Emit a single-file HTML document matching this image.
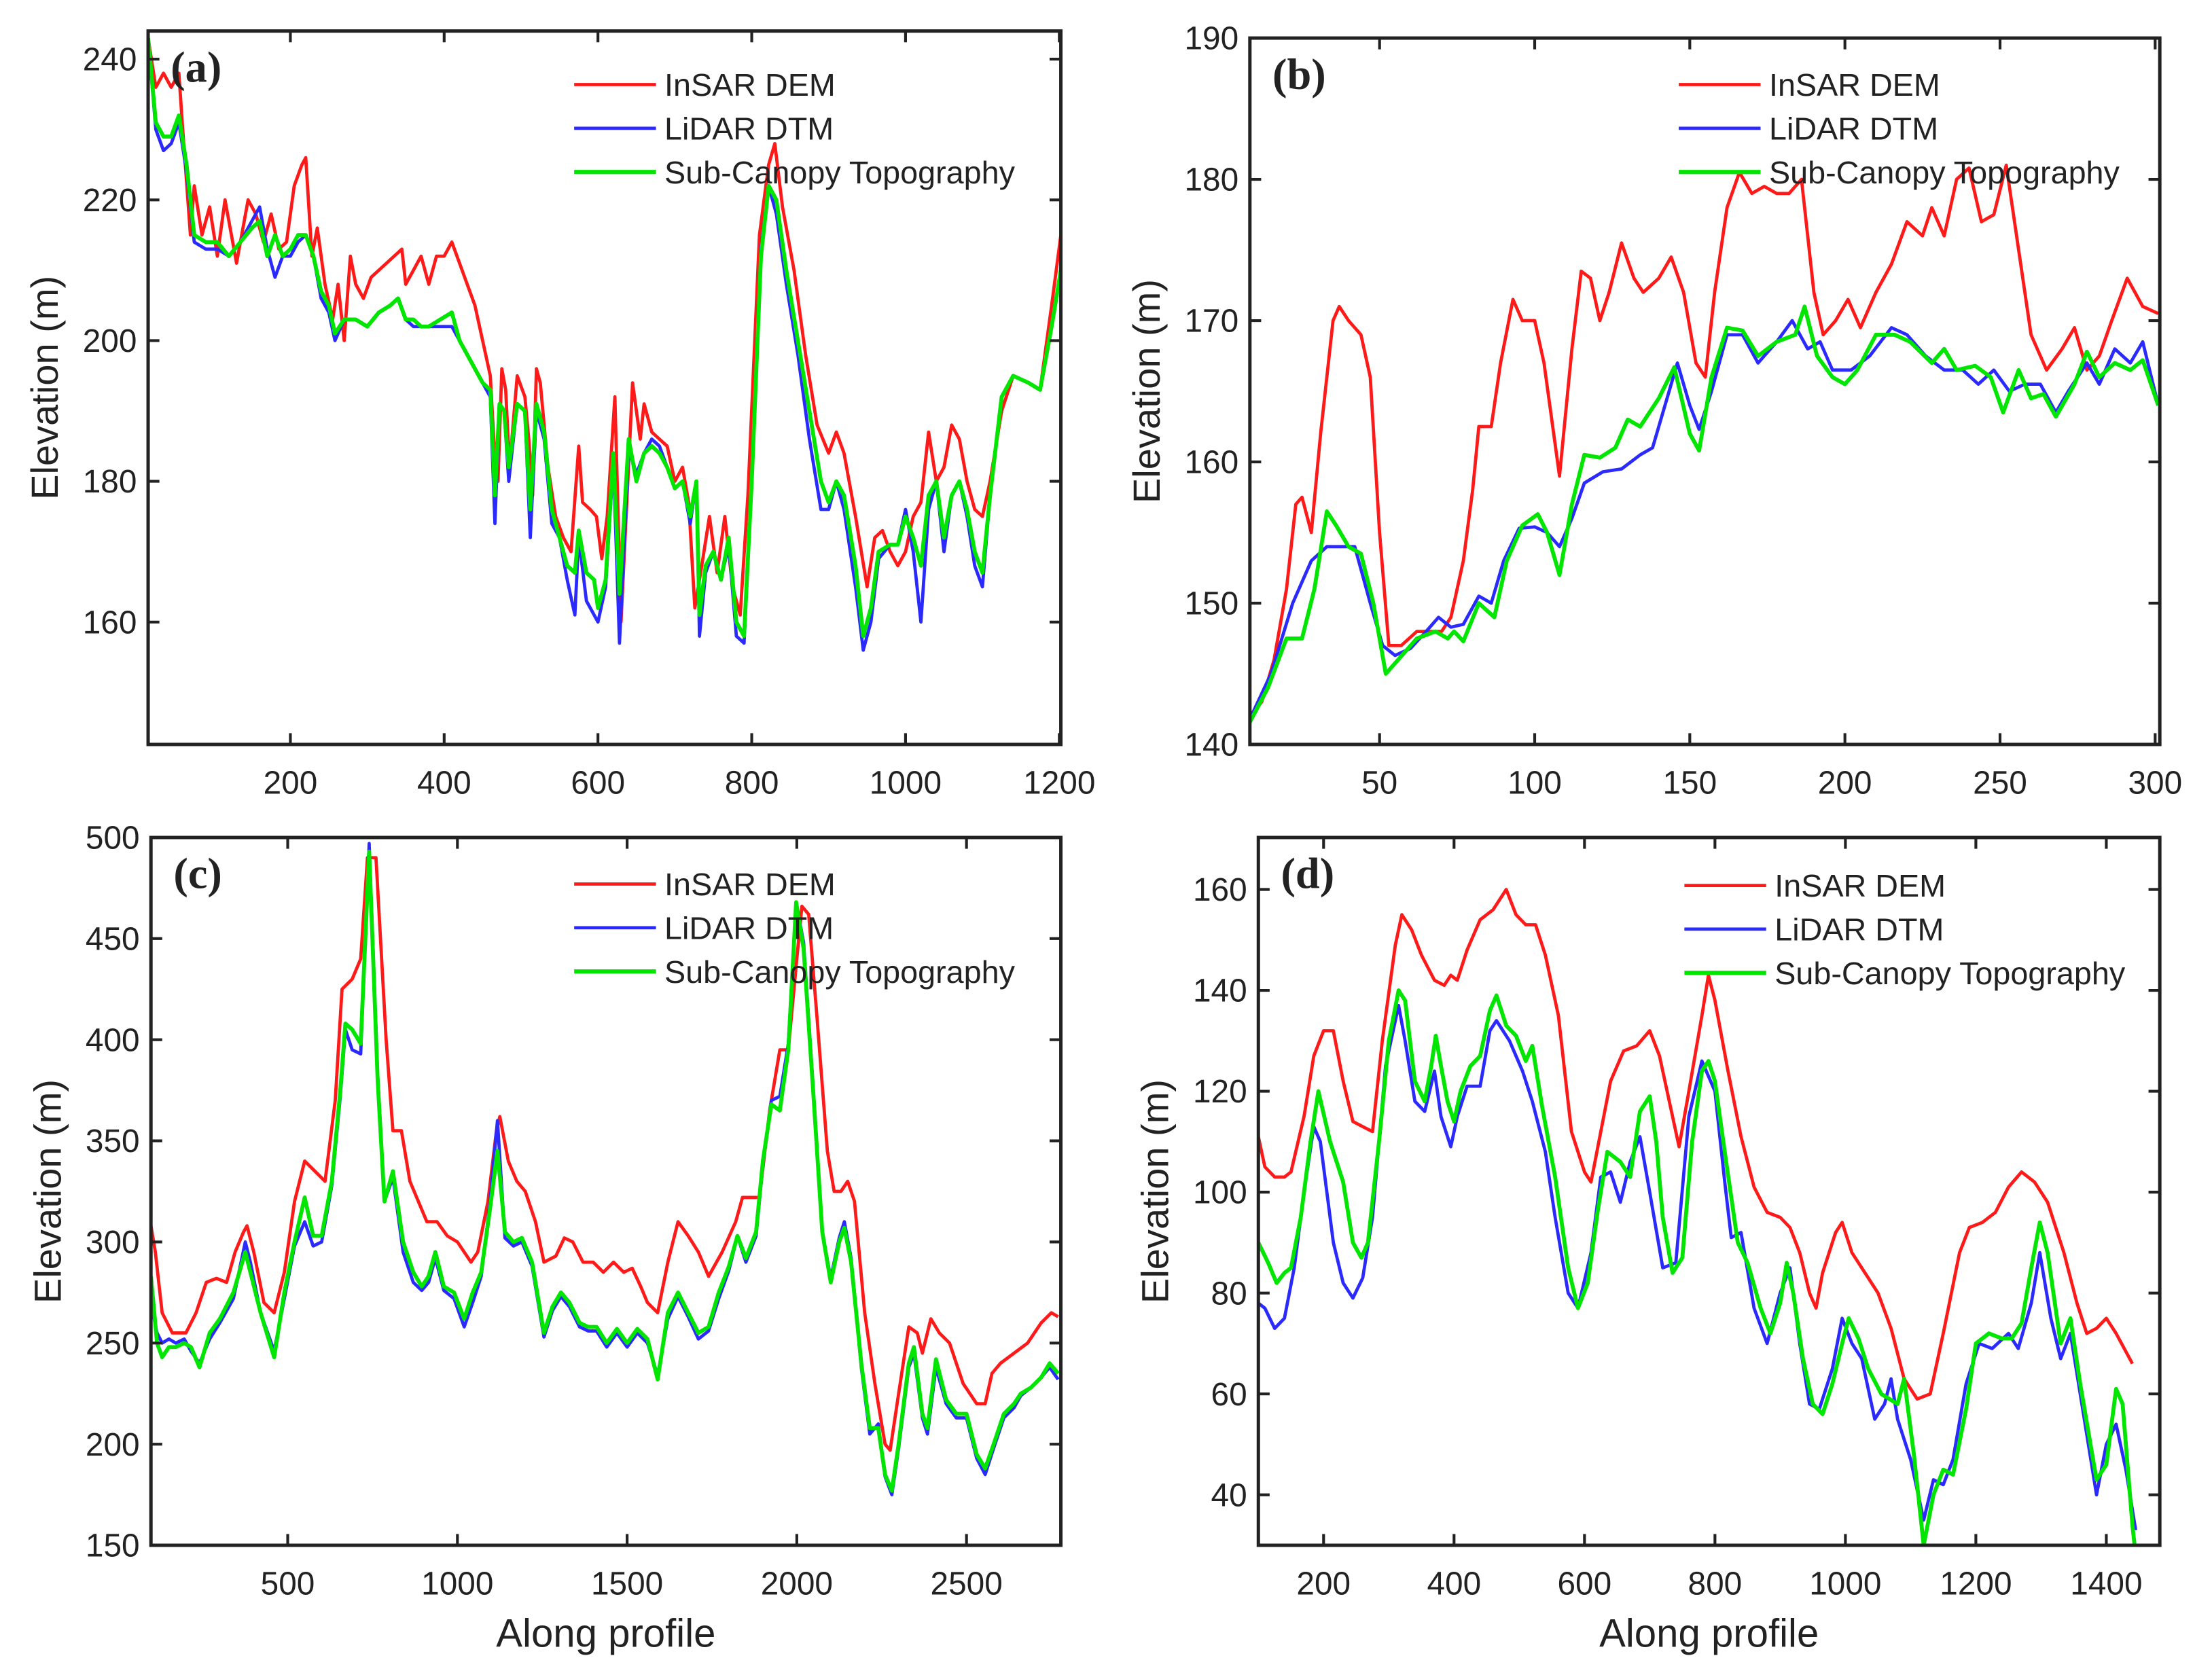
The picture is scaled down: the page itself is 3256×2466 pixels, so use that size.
<!DOCTYPE html>
<html><head><meta charset="utf-8"><style>
html,body{margin:0;padding:0;background:#fff}
svg{display:block}
text{font-family:"Liberation Sans",Arial,sans-serif;fill:#222}
</style></head><body>
<svg id="fig" xmlns="http://www.w3.org/2000/svg" width="3256" height="2466" viewBox="0 0 1568 1188" preserveAspectRatio="none"></svg>
<script>
// ---- Panel (a) data ----
const aRedX=[15,25,35,45,55,60,70,75,85,95,105,115,130,145,155,165,175,185,195,205,215,220,228,235,245,255,262,270,278,285,295,305,315,325,335,345,350,360,370,380,390,400,410,420,430,440,450,460,465,470,475,480,485,495,505,510,515,520,525,535,545,555,565,575,580,590,598,605,612,622,630,645,655,660,670,680,690,700,710,718,726,735,745,755,765,775,785,795,810,822,830,840,855,870,885,900,910,920,935,950,960,970,980,990,1000,1010,1020,1030,1040,1050,1060,1070,1080,1090,1100,1110,1125,1140,1160,1175,1190,1202];
const aRedY=[243,236,238,236,238,230,215,222,215,219,212,220,211,220,218,214,218,213,214,222,225,226,212,216,208,203,208,200,212,208,206,209,210,211,212,213,208,210,212,208,212,212,214,211,208,205,200,195,185,180,196,193,182,195,192,186,178,196,194,182,175,172,170,185,177,176,175,169,175,192,160,194,186,191,187,186,185,180,182,177,162,168,175,167,175,165,161,178,215,225,228,219,210,198,188,184,187,184,175,165,172,173,170,168,170,175,177,187,180,182,188,186,180,176,175,180,190,195,194,193,205,215];
const aGreenX=[15,25,35,45,55,65,75,90,105,120,135,150,160,170,180,190,200,210,220,230,240,250,258,270,285,300,315,330,340,350,360,370,380,395,410,420,430,440,450,460,466,472,478,484,495,505,512,520,530,540,550,560,570,575,585,595,600,610,620,628,640,650,660,670,680,690,700,710,720,728,732,740,750,760,770,780,790,800,812,822,832,845,860,875,890,900,910,920,935,945,955,965,980,990,1000,1010,1020,1030,1040,1050,1060,1070,1080,1090,1100,1110,1125,1140,1160,1175,1190,1202];
const aGreenY=[243,231,229,229,232,225,215,214,214,212,214,216,217,212,215,212,213,215,215,212,207,205,201,203,203,202,204,205,206,203,203,202,202,203,204,200,198,196,194,193,178,191,190,182,191,190,176,191,187,176,172,168,167,173,167,166,162,166,184,164,186,180,184,185,184,182,179,180,175,180,161,168,170,166,172,160,158,180,212,222,220,210,200,190,180,177,180,178,168,158,162,170,171,171,175,172,168,178,180,172,178,180,176,170,167,178,192,195,194,193,202,210];
const aBlueX=aGreenX;
const aBlueY=[243,230,227,228,231,224,214,213,213,212,214,217,219,213,209,212,212,214,215,212,206,204,200,203,203,202,204,205,206,203,202,202,202,202,202,200,198,196,194,192,174,191,190,180,191,190,172,190,186,174,172,166,161,172,163,161,160,165,183,157,185,181,184,186,185,182,179,180,174,180,158,167,170,166,171,158,157,180,213,222,218,208,198,186,176,176,180,176,165,156,160,169,171,171,176,170,160,176,180,170,178,180,175,168,165,178,192,195,194,193,202,210];

// ---- Panel (b) data ----
const bRedX=[8,12,16,20,23,25,28,31,35,37,40,44,47,50,53,57,62,67,70,73,77,80,82,86,89,93,96,100,103,108,112,115,118,121,124,128,132,135,140,144,148,152,155,158,162,166,170,174,178,182,186,190,193,197,201,205,210,215,220,225,228,232,236,240,244,248,252,256,260,265,270,274,278,282,286,291,296,301];
const bRedY=[142,143,146,151,157,157.5,155,162,170,171,170,169,166,155,147,147,148,148,148,149,153,158,162.5,162.5,167,171.5,170,170,167,159,168,173.5,173,170,172,175.5,173,172,173,174.5,172,167,166,172,178,180.5,179,179.5,179,179,180,172,169,170,171.5,169.5,172,174,177,176,178,176,180,180.8,177,177.5,181,175,169,166.5,168,169.5,166.5,167.5,170,173,171,170.5];
const bBlueX=[8,15,22,28,33,38,42,47,51,55,60,65,69,73,77,82,86,90,95,100,104,108,112,116,122,128,134,138,142,146,150,153,157,162,167,172,178,183,188,192,196,202,208,215,220,226,232,238,243,248,253,258,263,268,272,278,282,287,292,296,301];
const bBlueY=[141.7,145,150,153,154,154,154,150,147,146.3,146.8,148,149,148.3,148.5,150.5,150,153,155.3,155.4,155,154,156,158.5,159.3,159.5,160.5,161,164,167,164,162.3,165,169,169,167,168.5,170,168,168.5,166.5,166.5,167.5,169.5,169,167.5,166.5,166.5,165.5,166.5,165,165.5,165.5,163.5,165,167,165.5,168,167,168.5,164];
const bGreenX=[8,14,20,25,29,33,36,40,44,48,52,56,62,68,72,74,77,82,87,91,96,101,104,108,112,116,121,126,130,134,140,145,150,153,157,162,167,172,178,184,187,191,196,200,204,210,216,221,228,232,236,242,247,251,256,260,264,268,274,278,282,287,292,296,301];
const bGreenY=[141.5,144,147.5,147.5,151,156.5,155.5,154,153.5,150,145,146,147.5,148,147.5,148,147.3,150,149,153,155.5,156.3,155,152,157,160.5,160.3,161,163,162.5,164.5,166.7,162,160.8,166,169.5,169.3,167.5,168.5,169,171,167.5,166,165.5,166.5,169,169,168.5,167,168,166.5,166.8,166,163.5,166.5,164.5,164.8,163.2,165.5,167.8,166,167,166.5,167.2,164];

// ---- Panel (c) data ----
const cRedX=[97,110,130,160,200,230,260,290,320,345,370,380,400,430,460,490,520,550,580,610,640,660,690,715,735,760,790,810,835,860,890,910,940,970,1000,1040,1060,1090,1115,1125,1150,1175,1200,1230,1255,1290,1315,1340,1370,1400,1430,1460,1490,1515,1540,1560,1590,1620,1650,1680,1710,1740,1780,1820,1840,1860,1890,1920,1950,1975,2000,2015,2035,2060,2090,2110,2130,2150,2170,2200,2230,2260,2275,2300,2330,2355,2370,2395,2420,2450,2490,2530,2555,2575,2600,2640,2680,2720,2750,2770];
const cRedY=[308,295,265,255,255,265,280,282,280,295,305,308,295,270,265,285,320,340,335,330,370,425,430,440,490,490,400,355,355,330,318,310,310,303,300,290,295,320,355,362,340,330,325,310,290,293,302,300,290,290,285,290,285,287,278,270,265,290,310,303,295,283,295,310,322,322,322,365,395,395,440,466,462,410,345,325,325,330,320,265,230,200,197,225,258,255,245,262,255,250,230,220,220,235,240,245,250,260,265,263];
const cGreenX=[97,115,130,150,170,195,215,240,270,300,340,375,390,420,460,490,520,550,575,600,630,655,670,690,715,740,765,785,810,840,870,895,915,935,960,990,1020,1045,1070,1095,1118,1140,1165,1190,1220,1255,1280,1305,1330,1360,1385,1410,1440,1470,1500,1530,1560,1590,1620,1650,1680,1710,1740,1770,1800,1825,1850,1880,1900,1925,1950,1975,1998,2020,2050,2075,2100,2125,2140,2160,2190,2215,2240,2260,2280,2300,2330,2345,2370,2385,2410,2440,2470,2500,2530,2555,2580,2610,2640,2660,2690,2720,2745,2770];
const cGreenY=[283,250,243,248,248,250,248,238,255,262,275,295,285,265,243,275,300,322,303,303,330,375,408,405,398,493,380,320,335,300,285,278,283,295,278,275,262,275,285,315,345,305,300,302,290,255,268,275,270,260,258,258,250,257,250,257,252,232,265,275,265,255,258,275,288,303,292,305,340,368,365,395,468,445,370,305,280,300,307,290,240,208,208,185,177,200,240,248,215,208,242,222,215,215,195,188,200,215,220,225,228,233,240,235];
const cBlueX=cGreenX;
const cBlueY=[270,255,250,252,250,252,246,240,252,260,272,300,290,265,246,272,298,310,298,300,328,372,405,395,393,497,383,320,332,295,280,276,280,292,276,272,258,270,283,318,360,302,298,300,288,253,266,273,268,258,256,256,248,255,248,255,250,234,262,273,263,252,256,272,286,303,290,303,338,370,372,398,468,448,372,305,282,302,310,292,238,205,210,184,175,198,238,245,213,205,238,220,213,213,193,185,198,213,218,224,228,233,238,232];

// ---- Panel (d) data ----
const dRedX=[100,110,125,140,150,170,185,200,215,230,245,260,275,290,310,320,335,350,370,385,395,405,420,440,460,480,495,510,525,540,560,580,600,610,625,640,660,680,700,715,735,745,760,780,790,800,820,840,860,880,900,915,930,945,955,965,985,995,1010,1030,1050,1070,1090,1110,1130,1150,1175,1190,1210,1230,1250,1270,1290,1310,1335,1355,1370,1385,1400,1415,1440];
const dRedY=[111,105,103,103,104,115,127,132,132,122,114,113,112,130,149,155,152,147,142,141,143,142,148,154,156,160,155,153,153,147,135,112,104,102,112,122,128,129,132,127,115,109,120,135,143,138,124,111,101,96,95,93,88,80,77,84,92,94,88,84,80,73,63,59,60,72,88,93,94,96,101,104,102,98,88,78,72,73,75,72,66];
const dGreenX=[100,115,128,140,150,165,180,192,210,230,245,258,268,285,300,315,325,340,355,365,372,380,390,400,410,425,440,455,465,480,495,510,520,535,555,575,590,605,620,635,655,670,685,700,710,720,735,750,765,780,790,800,815,835,850,870,885,900,910,920,935,950,965,980,995,1005,1020,1035,1055,1080,1090,1105,1120,1135,1150,1165,1185,1200,1220,1240,1255,1270,1285,1298,1310,1330,1345,1360,1385,1400,1415,1425,1440,1445];
const dGreenY=[90,86,82,84,85,95,110,120,110,102,90,87,90,110,130,140,138,122,118,125,131,125,118,114,120,125,127,136,139,133,131,126,129,117,103,85,77,82,96,108,106,103,116,119,110,95,84,87,110,124,126,122,108,90,86,77,72,78,86,80,67,58,56,62,70,75,71,65,60,58,63,48,30,40,45,44,57,70,72,71,71,74,85,94,88,70,75,62,43,46,61,58,34,28];
const dBlueX=[100,110,125,140,155,170,185,195,215,230,245,260,275,295,315,325,340,355,370,380,395,405,420,440,455,465,485,505,520,540,555,575,590,610,625,640,655,670,685,700,720,740,760,780,800,815,825,840,860,880,900,915,930,945,960,980,995,1010,1025,1045,1060,1070,1080,1100,1120,1135,1150,1165,1185,1205,1225,1250,1265,1285,1298,1315,1330,1345,1360,1385,1400,1415,1430,1445];
const dBlueY=[78,77,73,75,85,100,113,110,90,82,79,83,95,125,137,130,118,116,124,115,109,115,121,121,132,134,130,124,118,108,95,80,77,88,103,104,98,106,111,100,85,86,115,126,120,102,91,92,77,70,80,85,70,58,57,65,75,70,67,55,58,63,55,47,35,43,42,47,62,70,69,72,69,78,88,75,67,72,60,40,50,54,45,33];

// ---- axis ticks ----
const aXTicks=[200,400,600,800,1000,1200], aYTicks=[160,180,200,220,240];
const bXTicks=[50,100,150,200,250,300], bYTicks=[140,150,160,170,180,190];
const cXTicks=[500,1000,1500,2000,2500], cYTicks=[150,200,250,300,350,400,450,500];
const dXTicks=[200,400,600,800,1000,1200,1400], dYTicks=[40,60,80,100,120,140,160];

const NS='http://www.w3.org/2000/svg';
const svg=document.getElementById('fig');
function mk(tag,attrs,parent){const e=document.createElementNS(NS,tag);for(const k in attrs)e.setAttribute(k,attrs[k]);(parent||svg).appendChild(e);return e;}

function panel(id,box,xd,yd,xt,yt,series,label,legX,legY,showXTitle){
  const [L,T,R,B]=box;
  const sx=v=>L+(v-xd[0])/(xd[1]-xd[0])*(R-L);
  const sy=v=>B-(v-yd[0])/(yd[1]-yd[0])*(B-T);
  const g=mk('g',{});
  
  
  const cp=mk('clipPath',{id:'clip'+id},g);
  mk('rect',{x:L,y:T,width:R-L,height:B-T},cp);
  const colors={red:'#ff1a1a',blue:'#2a2aff',green:'#00e600'};
  const sg=mk('g',{'clip-path':'url(#clip'+id+')'},g);
  series.forEach(s=>{
    let d='';
    s.x.forEach((xv,i)=>{d+=(i?'L':'M')+sx(xv).toFixed(2)+','+sy(s.y[i]).toFixed(2);});
    const p=mk('path',{d:d,fill:'none',stroke:colors[s.c],'stroke-width':s.c==='green'?2.8:2.3,'stroke-linejoin':'round'},sg);
    
    
  });
  const frame=mk('rect',{x:L,y:T,width:R-L,height:B-T,fill:'none',stroke:'#222','stroke-width':2.4},g);
  
  
  xt.forEach(v=>{
    const x=sx(v);
    mk('line',{x1:x,y1:B,x2:x,y2:B-8,stroke:'#222','stroke-width':2},g);
    mk('line',{x1:x,y1:T,x2:x,y2:T+8,stroke:'#222','stroke-width':2},g);
    const t=mk('text',{x:x,y:B+35,'text-anchor':'middle','font-size':23},g);
    t.textContent=v;
    
    
  });
  yt.forEach(v=>{
    const y=sy(v);
    mk('line',{x1:L,y1:y,x2:L+8,y2:y,stroke:'#222','stroke-width':2},g);
    mk('line',{x1:R,y1:y,x2:R-8,y2:y,stroke:'#222','stroke-width':2},g);
    const t=mk('text',{x:L-8,y:y+8,'text-anchor':'end','font-size':23},g);
    t.textContent=v;
    
    
  });
  const yt2=mk('text',{x:0,y:0,'text-anchor':'middle','font-size':27,transform:'translate('+(L-64)+','+((T+B)/2)+') rotate(-90)'},g);
  yt2.textContent='Elevation (m)';
  
  
  if(showXTitle){
    const xt2=mk('text',{x:(L+R)/2,y:B+72,'text-anchor':'middle','font-size':28},g);
    xt2.textContent='Along profile';
    
    
  }
  const lab=mk('text',{x:L+16,y:T+36,'font-size':31,'font-weight':'bold',style:'font-family:"Liberation Serif",serif'},g);
  lab.textContent=label;
  
  
  const names=['InSAR DEM','LiDAR DTM','Sub-Canopy Topography'];
  const lc=['red','blue','green'];
  names.forEach((nm,i)=>{
    const y=legY+i*31;
    const ln=mk('line',{x1:legX,y1:y,x2:legX+58,y2:y,stroke:colors[lc[i]],'stroke-width':i===2?3:2.3},g);
    
    
    const t=mk('text',{x:legX+64,y:y+8,'font-size':22.5},g);
    t.textContent=nm;
    
    
  });
}

panel('a',[105,22,752,528],[15,1202],[142.6,244],aXTicks,aYTicks,
  [{x:aRedX,y:aRedY,c:'red',n:'insar'},{x:aBlueX,y:aBlueY,c:'blue',n:'lidar'},{x:aGreenX,y:aGreenY,c:'green',n:'subcanopy'}],'(a)',407,60,false);
panel('b',[886,27,1531,528],[8.2,301.5],[140,190],bXTicks,bYTicks,
  [{x:bRedX,y:bRedY,c:'red',n:'insar'},{x:bBlueX,y:bBlueY,c:'blue',n:'lidar'},{x:bGreenX,y:bGreenY,c:'green',n:'subcanopy'}],'(b)',1190,60,false);
panel('c',[107,594,752,1096],[97,2778],[150,500],cXTicks,cYTicks,
  [{x:cRedX,y:cRedY,c:'red',n:'insar'},{x:cBlueX,y:cBlueY,c:'blue',n:'lidar'},{x:cGreenX,y:cGreenY,c:'green',n:'subcanopy'}],'(c)',407,627,true);
panel('d',[892,594,1531,1096],[100,1482],[30,170.3],dXTicks,dYTicks,
  [{x:dRedX,y:dRedY,c:'red',n:'insar'},{x:dBlueX,y:dBlueY,c:'blue',n:'lidar'},{x:dGreenX,y:dGreenY,c:'green',n:'subcanopy'}],'(d)',1194,628,true);
</script>
</body></html>
